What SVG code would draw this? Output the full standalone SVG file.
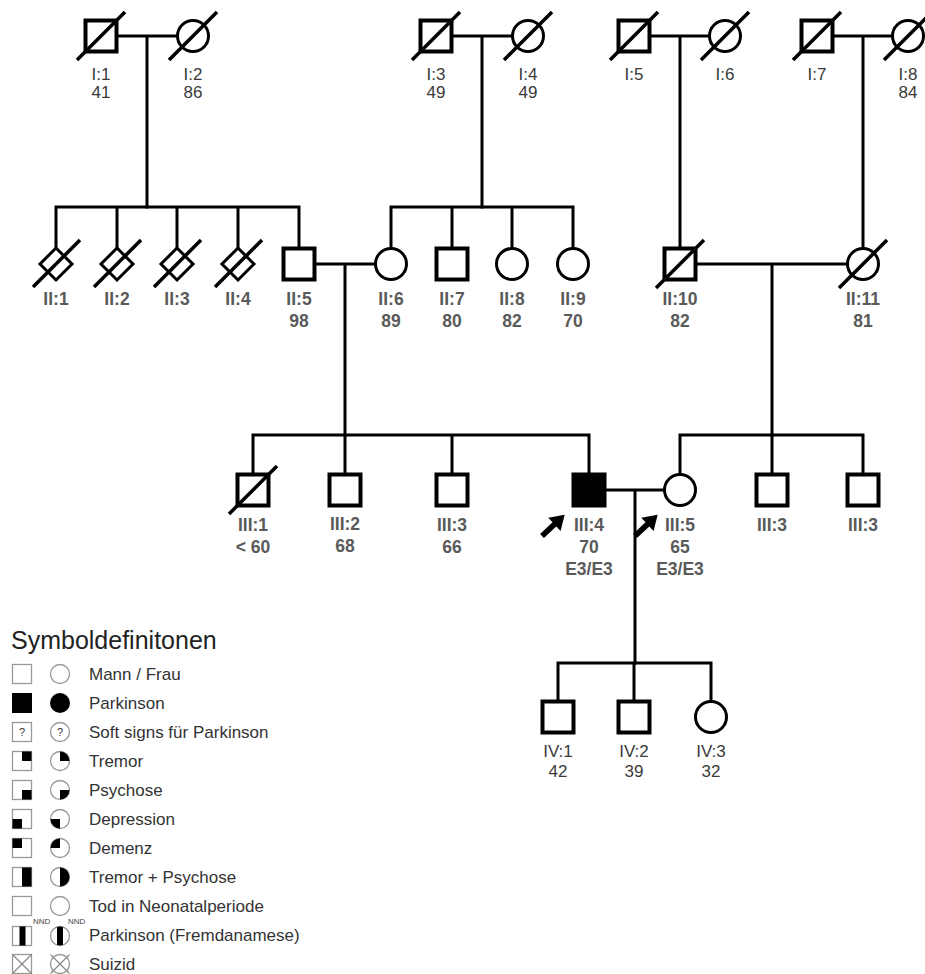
<svg xmlns="http://www.w3.org/2000/svg" width="925" height="974" viewBox="0 0 925 974">
<defs>
<style>
.ln{stroke:#000;stroke-width:3;fill:none;stroke-linecap:square}
.sq{fill:#fff;stroke:#000;stroke-width:4}
.sqf{fill:#000;stroke:#000;stroke-width:4}
.ci{fill:#fff;stroke:#000;stroke-width:3}
.dm{fill:#fff;stroke:#000;stroke-width:3;stroke-linejoin:miter}
.sl{stroke:#000;stroke-width:3.5;stroke-linecap:butt}
.t1{font-family:"Liberation Sans",Arial,sans-serif;font-size:17px;fill:#3a3a3a;text-anchor:middle}
.t2{font-family:"Liberation Sans",Arial,sans-serif;font-size:17.5px;font-weight:bold;fill:#5a5a5a;text-anchor:middle}
.lt{font-family:"Liberation Sans",Arial,sans-serif;font-size:17px;fill:#333}
.lh{font-family:"Liberation Sans",Arial,sans-serif;font-size:25px;fill:#222}
.ls{fill:#fff;stroke:#999;stroke-width:1.3}
.lk{fill:#000}
.lx{stroke:#888;stroke-width:1.2;fill:none}
.nnd{font-family:"Liberation Sans",Arial,sans-serif;font-size:8px;fill:#444}
.q{font-family:"Liberation Sans",Arial,sans-serif;font-size:11px;fill:#333;text-anchor:middle}
</style>
<path id="arrow" d="M0,-2.8 L17,-2.8 L17,-9 L31,0 L17,9 L17,2.8 L0,2.8 Z" fill="#000"/>
</defs>
<rect width="925" height="974" fill="#fff"/>

<g id="connectors">
<path class="ln" d="M117,36 H177 M147,36 V207"/>
<path class="ln" d="M452,36 H512 M482,36 V207"/>
<path class="ln" d="M650,36 H709 M680,36 V248"/>
<path class="ln" d="M833,36 H892 M863,36 V248"/>
<path class="ln" d="M56,207 H299 M56,207 V248 M117,207 V248 M177,207 V248 M238,207 V248 M299,207 V248"/>
<path class="ln" d="M391,207 H573 M391,207 V248 M452,207 V248 M512,207 V248 M573,207 V248"/>
<path class="ln" d="M315,264 H375 M345,264 V435"/>
<path class="ln" d="M696,264 H847 M772,264 V435"/>
<path class="ln" d="M253,435 H589 M253,435 V474 M345,435 V474 M452,435 V474 M589,435 V474"/>
<path class="ln" d="M680,435 H863 M680,435 V474 M772,435 V474 M863,435 V474"/>
<path class="ln" d="M605,490 H664 M635,490 V663"/>
<path class="ln" d="M558,663 H711 M558,663 V701 M634,663 V701 M711,663 V701"/>
</g>

<!-- Generation I -->
<g id="I1"><rect class="sq" x="85.5" y="20.5" width="31" height="31"/><line class="sl" x1="77" y1="60" x2="125" y2="12"/><text class="t1" x="101" y="80">I:1</text><text class="t1" x="101" y="98">41</text></g>
<g id="I2"><circle class="ci" cx="193" cy="36" r="15.5"/><line class="sl" x1="169" y1="60" x2="217" y2="12"/><text class="t1" x="193" y="80">I:2</text><text class="t1" x="193" y="98">86</text></g>
<g id="I3"><rect class="sq" x="420.5" y="20.5" width="31" height="31"/><line class="sl" x1="412" y1="60" x2="460" y2="12"/><text class="t1" x="436" y="80">I:3</text><text class="t1" x="436" y="98">49</text></g>
<g id="I4"><circle class="ci" cx="528" cy="36" r="15.5"/><line class="sl" x1="504" y1="60" x2="552" y2="12"/><text class="t1" x="528" y="80">I:4</text><text class="t1" x="528" y="98">49</text></g>
<g id="I5"><rect class="sq" x="618.5" y="20.5" width="31" height="31"/><line class="sl" x1="610" y1="60" x2="658" y2="12"/><text class="t1" x="634" y="80">I:5</text></g>
<g id="I6"><circle class="ci" cx="725" cy="36" r="15.5"/><line class="sl" x1="701" y1="60" x2="749" y2="12"/><text class="t1" x="725" y="80">I:6</text></g>
<g id="I7"><rect class="sq" x="801.5" y="20.5" width="31" height="31"/><line class="sl" x1="793" y1="60" x2="841" y2="12"/><text class="t1" x="817" y="80">I:7</text></g>
<g id="I8"><circle class="ci" cx="908" cy="36" r="15.5"/><line class="sl" x1="884" y1="60" x2="932" y2="12"/><text class="t1" x="908" y="80">I:8</text><text class="t1" x="908" y="98">84</text></g>

<!-- Generation II -->
<g id="II1"><polygon class="dm" points="56,248 72,264 56,280 40,264"/><line class="sl" x1="33" y1="287" x2="80" y2="240"/><text class="t2" x="56" y="305">II:1</text></g>
<g id="II2"><polygon class="dm" points="117,248 133,264 117,280 101,264"/><line class="sl" x1="94" y1="287" x2="141" y2="240"/><text class="t2" x="117" y="305">II:2</text></g>
<g id="II3"><polygon class="dm" points="177,248 193,264 177,280 161,264"/><line class="sl" x1="154" y1="287" x2="201" y2="240"/><text class="t2" x="177" y="305">II:3</text></g>
<g id="II4"><polygon class="dm" points="238,248 254,264 238,280 222,264"/><line class="sl" x1="215" y1="287" x2="262" y2="240"/><text class="t2" x="238" y="305">II:4</text></g>
<g id="II5"><rect class="sq" x="283.5" y="248.5" width="31" height="31"/><text class="t2" x="299" y="305">II:5</text><text class="t2" x="299" y="327">98</text></g>
<g id="II6"><circle class="ci" cx="391" cy="264" r="15.5"/><text class="t2" x="391" y="305">II:6</text><text class="t2" x="391" y="327">89</text></g>
<g id="II7"><rect class="sq" x="436.5" y="248.5" width="31" height="31"/><text class="t2" x="452" y="305">II:7</text><text class="t2" x="452" y="327">80</text></g>
<g id="II8"><circle class="ci" cx="512" cy="264" r="15.5"/><text class="t2" x="512" y="305">II:8</text><text class="t2" x="512" y="327">82</text></g>
<g id="II9"><circle class="ci" cx="573" cy="264" r="15.5"/><text class="t2" x="573" y="305">II:9</text><text class="t2" x="573" y="327">70</text></g>
<g id="II10"><rect class="sq" x="664.5" y="248.5" width="31" height="31"/><line class="sl" x1="656" y1="288" x2="704" y2="240"/><text class="t2" x="680" y="305">II:10</text><text class="t2" x="680" y="327">82</text></g>
<g id="II11"><circle class="ci" cx="863" cy="264" r="15.5"/><line class="sl" x1="839" y1="288" x2="887" y2="240"/><text class="t2" x="863" y="305">II:11</text><text class="t2" x="863" y="327">81</text></g>

<!-- Generation III -->
<g id="III1"><rect class="sq" x="237.5" y="474.5" width="31" height="31"/><line class="sl" x1="229" y1="514" x2="277" y2="466"/><text class="t2" x="253" y="531">III:1</text><text class="t2" x="253" y="553">&lt; 60</text></g>
<g id="III2"><rect class="sq" x="329.5" y="474.5" width="31" height="31"/><text class="t2" x="345" y="530">III:2</text><text class="t2" x="345" y="552">68</text></g>
<g id="III3a"><rect class="sq" x="436.5" y="474.5" width="31" height="31"/><text class="t2" x="452" y="531">III:3</text><text class="t2" x="452" y="553">66</text></g>
<g id="III4"><rect class="sqf" x="573.5" y="474.5" width="31" height="31"/><use href="#arrow" transform="translate(542,536) rotate(-43)"/><text class="t2" x="589" y="531">III:4</text><text class="t2" x="589" y="553">70</text><text class="t2" x="589" y="575">E3/E3</text></g>
<g id="III5"><circle class="ci" cx="680" cy="490" r="15.5"/><use href="#arrow" transform="translate(635,536) rotate(-43)"/><text class="t2" x="680" y="531">III:5</text><text class="t2" x="680" y="553">65</text><text class="t2" x="680" y="575">E3/E3</text></g>
<g id="III3b"><rect class="sq" x="756.5" y="474.5" width="31" height="31"/><text class="t2" x="772" y="531">III:3</text></g>
<g id="III3c"><rect class="sq" x="847.5" y="474.5" width="31" height="31"/><text class="t2" x="863" y="531">III:3</text></g>

<!-- Generation IV -->
<g id="IV1"><rect class="sq" x="542.5" y="701.5" width="31" height="31"/><text class="t1" x="558" y="757">IV:1</text><text class="t1" x="558" y="777">42</text></g>
<g id="IV2"><rect class="sq" x="618.5" y="701.5" width="31" height="31"/><text class="t1" x="634" y="757">IV:2</text><text class="t1" x="634" y="777">39</text></g>
<g id="IV3"><circle class="ci" cx="711" cy="717" r="15.5"/><text class="t1" x="711" y="757">IV:3</text><text class="t1" x="711" y="777">32</text></g>

<!-- Legend -->
<g id="legend">
<text class="lh" x="11" y="649">Symboldefinitonen</text>
<g id="lg-mann"><rect class="ls" x="12.5" y="664.5" width="19" height="19"/><circle class="ls" cx="60" cy="674" r="9.5"/><text class="lt" x="89" y="680">Mann / Frau</text></g>
<g id="lg-park"><rect class="lk" x="12" y="693" width="20" height="20"/><circle class="lk" cx="60" cy="703" r="10"/><text class="lt" x="89" y="709">Parkinson</text></g>
<g id="lg-soft"><rect class="ls" x="12.5" y="722.5" width="19" height="19"/><circle class="ls" cx="60" cy="732" r="9.5"/><text class="q" x="22" y="736">?</text><text class="q" x="60" y="736">?</text><text class="lt" x="89" y="738">Soft signs für Parkinson</text></g>
<g id="lg-tremor"><rect class="ls" x="12.5" y="751.5" width="19" height="19"/><rect class="lk" x="22" y="751.5" width="9.5" height="9.5"/><circle class="ls" cx="60" cy="761" r="9.5"/><path class="lk" d="M60,761 L60,751.5 A9.5,9.5 0 0 1 69.5,761 Z"/><text class="lt" x="89" y="767">Tremor</text></g>
<g id="lg-psychose"><rect class="ls" x="12.5" y="780.5" width="19" height="19"/><rect class="lk" x="22" y="790" width="9.5" height="9.5"/><circle class="ls" cx="60" cy="790" r="9.5"/><path class="lk" d="M60,790 L69.5,790 A9.5,9.5 0 0 1 60,799.5 Z"/><text class="lt" x="89" y="796">Psychose</text></g>
<g id="lg-depression"><rect class="ls" x="12.5" y="809.5" width="19" height="19"/><rect class="lk" x="12.5" y="819" width="9.5" height="9.5"/><circle class="ls" cx="60" cy="819" r="9.5"/><path class="lk" d="M60,819 L60,828.5 A9.5,9.5 0 0 1 50.5,819 Z"/><text class="lt" x="89" y="825">Depression</text></g>
<g id="lg-demenz"><rect class="ls" x="12.5" y="838.5" width="19" height="19"/><rect class="lk" x="12.5" y="838.5" width="9.5" height="9.5"/><circle class="ls" cx="60" cy="848" r="9.5"/><path class="lk" d="M60,848 L50.5,848 A9.5,9.5 0 0 1 60,838.5 Z"/><text class="lt" x="89" y="854">Demenz</text></g>
<g id="lg-tremorpsy"><rect class="ls" x="12.5" y="867.5" width="19" height="19"/><rect class="lk" x="22" y="867.5" width="9.5" height="19"/><circle class="ls" cx="60" cy="877" r="9.5"/><path class="lk" d="M60,867.5 A9.5,9.5 0 0 1 60,886.5 Z"/><text class="lt" x="89" y="883">Tremor + Psychose</text></g>
<g id="lg-tod"><rect class="ls" x="12.5" y="896.5" width="19" height="19"/><circle class="ls" cx="60" cy="906" r="9.5"/><text class="nnd" x="33" y="924">NND</text><text class="nnd" x="68" y="924">NND</text><text class="lt" x="89" y="912">Tod in Neonatalperiode</text></g>
<g id="lg-fremd"><rect class="ls" x="12.5" y="926.5" width="19" height="19"/><rect class="lk" x="19.5" y="926.5" width="6" height="19"/><circle class="ls" cx="60" cy="936" r="9.5"/><path class="lk" d="M57,927 A9.5,9.5 0 0 1 63,927 L63,945 A9.5,9.5 0 0 1 57,945 Z"/><text class="lt" x="89" y="941">Parkinson (Fremdanamese)</text></g>
<g id="lg-suizid"><rect class="ls" x="12.5" y="954.5" width="19" height="19"/><path class="lx" d="M12.5,954.5 L31.5,973.5 M31.5,954.5 L12.5,973.5"/><circle class="ls" cx="60" cy="964" r="9.5"/><path class="lx" d="M50.5,954.5 L69.5,973.5 M69.5,954.5 L50.5,973.5"/><text class="lt" x="89" y="970">Suizid</text></g>
</g>
</svg>
